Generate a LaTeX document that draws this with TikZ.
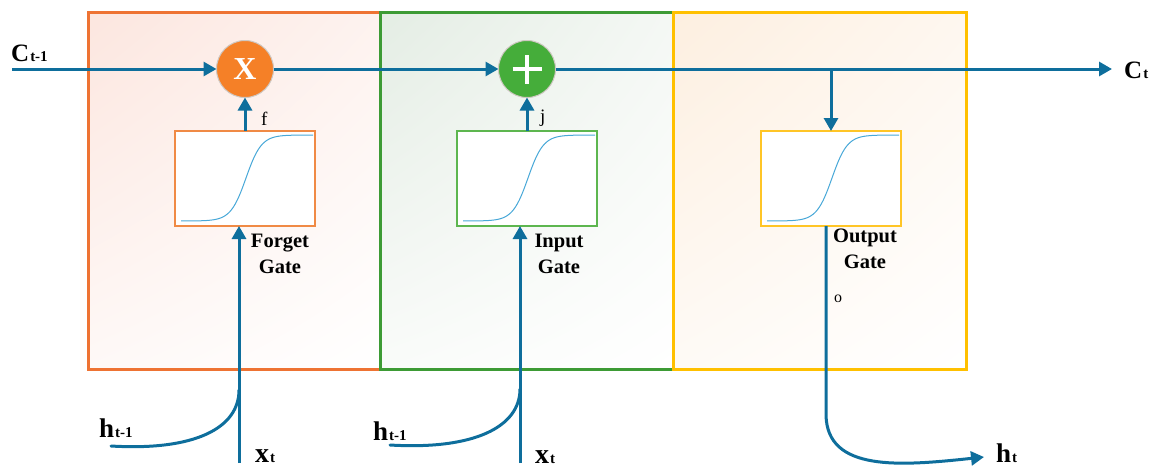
\documentclass[tikz,border=0pt]{standalone}
\usepackage{fontspec}
\setmainfont{Liberation Serif}
\usetikzlibrary{arrows.meta,shadings}

\definecolor{flow}{HTML}{0E6E9C}
\definecolor{sigcol}{HTML}{48A8D8}
\definecolor{orA}{HTML}{EE7333}
\definecolor{grA}{HTML}{3D9B35}
\definecolor{yeA}{HTML}{FFC000}
\definecolor{orB}{HTML}{F08A45}
\definecolor{grB}{HTML}{5DB64F}
\definecolor{yeB}{HTML}{FFC526}
\definecolor{orFill}{HTML}{FCE6DF}
\definecolor{grFill}{HTML}{E4EDE4}
\definecolor{yeFill}{HTML}{FDEFE0}
\definecolor{mulcol}{HTML}{F58027}
\definecolor{addcol}{HTML}{45AD3A}
\definecolor{rimcol}{HTML}{CFC8C2}

\tikzset{
  cellbox/.style={draw=#1, line width=3pt, minimum width=293pt, minimum height=357pt,
    inner sep=0pt, outer sep=0pt},
  gatebox/.style={draw=#1, line width=1.5pt, fill=white, minimum width=140pt,
    minimum height=95pt, inner sep=0pt, outer sep=0pt},
  opcircle/.style={circle, fill=#1, draw=rimcol, line width=1pt, minimum size=57pt,
    inner sep=0pt, outer sep=0pt},
  conn/.style={draw=flow, line width=3pt},
  arr/.style={conn, -{Triangle[length=13pt,width=14pt]}},
  sig/.style={draw=sigcol, line width=1pt},
  lbl/.style={inner sep=0pt, anchor=base west},
  gatelbl/.style={inner sep=0pt, anchor=north, align=center,
    font=\fontsize{20.5}{26}\selectfont\bfseries},
}

\newcommand{\bigsym}[2]{{\fontsize{#1}{#1}\selectfont\bfseries #2}}
\newcommand{\subsym}[1]{\kern1pt{\fontsize{15}{15}\selectfont\bfseries #1}}

\begin{document}
\begin{tikzpicture}[x=1pt,y=-1pt]
\useasboundingbox (0,0) rectangle (1155,467);

% the three cell regions
\node[cellbox=orA, upper left=orFill, upper right=orFill!50!white,
      lower left=orFill!25!white, lower right=white] (forgetcell) at (234,190.5)
      [minimum width=292pt] {};
\node[cellbox=grA, upper left=grFill, upper right=grFill!40!white,
      lower left=grFill!20!white, lower right=white] (inputcell) at (526.5,190.5) {};
\node[cellbox=yeA, upper left=yeFill, upper right=yeFill!50!white,
      lower left=yeFill!30!white, lower right=white] (outputcell) at (819.5,190.5) {};

% gate boxes
\node[gatebox=orB] (fg) at (245,178.5) {};
\node[gatebox=grB] (ig) at (527,178.5) {};
\node[gatebox=yeB] (og) at (831,178.5) {};

% sigmoid curves
\foreach \cx in {246,528,832}{
  \draw[sig] plot[domain=-65:67, samples=90, smooth]
    ({\cx+\x}, {221 - 86/(1+exp(-0.13*\x))});
}

% operation circles
\node[opcircle=mulcol, text=white, font=\fontsize{32}{32}\selectfont\bfseries]
  (mul) at (245,69) {X};
\node[opcircle=addcol] (add) at (527,69) {};
\draw[white, line width=4.5pt] ([xshift=-14.5pt]add.center) -- ([xshift=14.5pt]add.center);
\draw[white, line width=4.5pt] ([yshift=-14.5pt]add.center) -- ([yshift=14.5pt]add.center);

% cell state line
\coordinate (cin) at (12,69);
\coordinate (cout) at (1112,69);
\coordinate (br) at (og.north |- add.center);
\draw[arr] (cin) -- (mul.west);
\draw[arr] (mul.east) -- (add.west);
\draw[conn] (add.east) -- (br);
\draw[arr] (br) -- (cout);
\draw[arr] (br) -- (og.north);

% gate outputs into the operations
\draw[arr] (fg.north) -- (mul.south);
\draw[arr] (ig.north) -- (add.south);

% inputs of the forget gate
\coordinate (xf) at (239,463);
\coordinate (jf) at (239,390);
\coordinate (hf) at (111,446);
\draw[arr] (xf) -- (xf |- fg.south);
\draw[conn, line cap=round] (hf) .. controls (195,451) and (239,428) .. (jf);

% inputs of the input gate
\coordinate (xi) at (520,463);
\coordinate (ji) at (520,389);
\coordinate (hi) at (390,445);
\draw[arr] (xi) -- (xi |- ig.south);
\draw[conn, line cap=round] (hi) .. controls (474,450) and (520,427) .. (ji);

% output path
\coordinate (ot) at (826,226);
\coordinate (ob) at (826,415);
\coordinate (hout) at (984,457);
\draw[arr] (ot) -- (ob) .. controls (827,472) and (900,466) .. (hout);

% labels
\node[lbl] (cprev) at (11,61) {\bigsym{25}{C}\subsym{t-1}};
\node[lbl] (cnext) at (1124,78) {\bigsym{25}{C}\subsym{t}};
\node[lbl] (hprev1) at (99,437) {\bigsym{27}{h}\subsym{t-1}};
\node[lbl] (hprev2) at (373,440) {\bigsym{27}{h}\subsym{t-1}};
\node[lbl] (xt1) at (255,462) {\bigsym{28}{x}\subsym{t}};
\node[lbl] (xt2) at (535,463) {\bigsym{28}{x}\subsym{t}};
\node[lbl] (hnext) at (996,462) {\bigsym{27}{h}\subsym{t}};

\node[lbl, font=\fontsize{19}{19}\selectfont] (flab) at (261,125) {f};
\node[lbl, font=\fontsize{19}{19}\selectfont] (jlab) at (540,122) {j};
\node[lbl, font=\fontsize{16}{16}\selectfont] (olab) at (834,302) {o};

\node[gatelbl] (fglab) at (280,234) {Forget\\Gate};
\node[gatelbl] (iglab) at (559,234) {Input\\Gate};
\node[gatelbl] (oglab) at (865,229) {Output\\Gate};
\end{tikzpicture}
\end{document}
